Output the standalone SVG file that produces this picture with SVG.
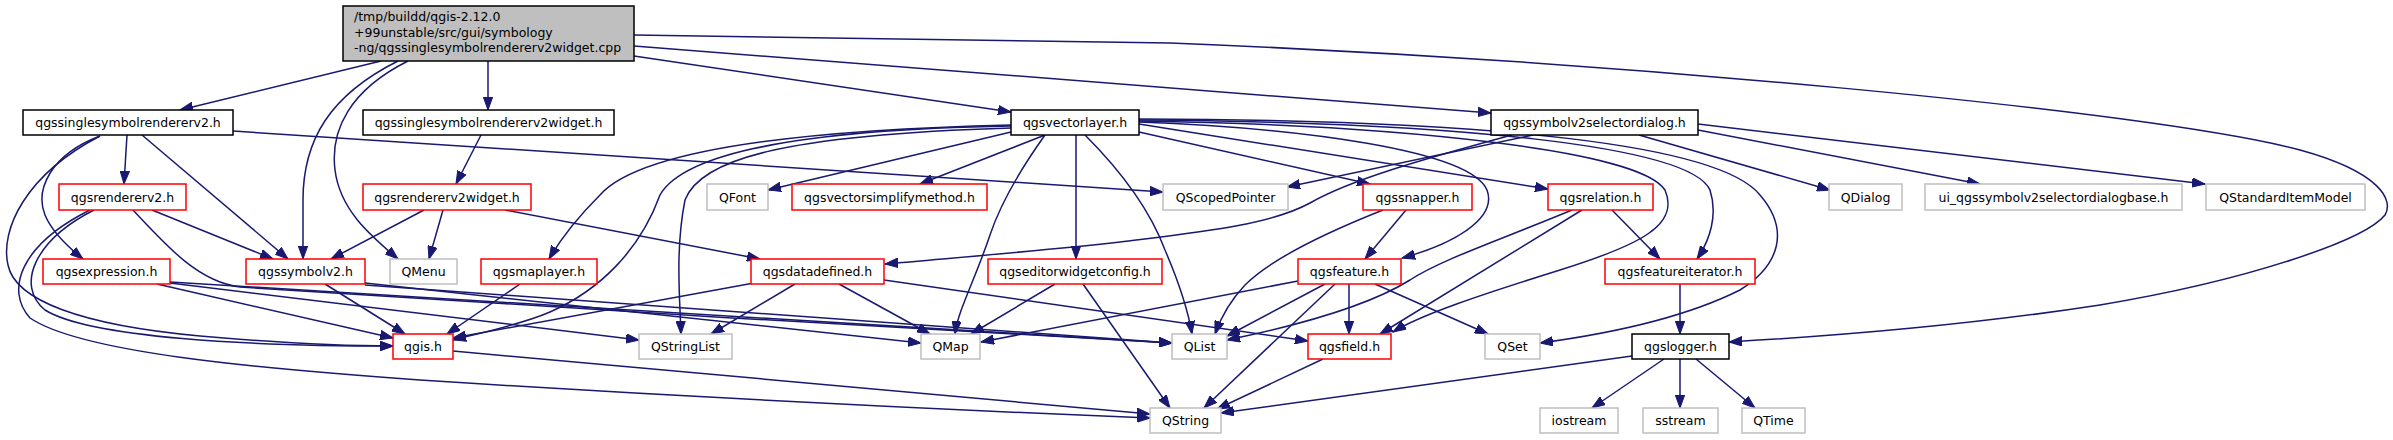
<svg xmlns="http://www.w3.org/2000/svg" width="2393" height="440" viewBox="0 0 2393 440">
<style>
.n rect{fill:#fff;stroke-width:1.5}
.b rect{stroke:#000}
.r rect{stroke:#ff0000}
.g rect{stroke:#bfbfbf}
text{font-family:"DejaVu Sans","Liberation Sans",sans-serif;font-size:12.5px;fill:#000}
.n text{text-anchor:middle}
#edges path{fill:none;stroke:#191970;stroke-width:1.5;marker-end:url(#arr)}
</style>
<defs>
<marker id="arr" markerWidth="14" markerHeight="10" refX="13" refY="5" orient="auto" markerUnits="userSpaceOnUse">
<path d="M0,0.3 L13,5 L0,9.7 z" fill="#191970" stroke="#191970" stroke-width="1"/>
</marker>
</defs>
<rect width="2393" height="440" fill="#fff"/>
<g id="edges">
<path d="M381,61 L180,110"/>
<path d="M488,61 L488,110"/>
<path d="M398,61 C330,95 303,140 303,200 L303,259"/>
<path d="M408,61 C350,90 330,130 335,170 C340,210 370,235 398,259"/>
<path d="M634,56 L1011,112"/>
<path d="M634,46 L1491,113"/>
<path d="M634,35 L1170,43 C1600,60 2150,110 2300,150 C2380,172 2394,200 2385,215 C2365,240 2250,280 2100,305 C1950,328 1800,338 1729,342"/>
<path d="M127,135 L124,184"/>
<path d="M142,135 L288,259"/>
<path d="M100,136 C50,155 35,190 45,215 C52,232 68,247 83,259"/>
<path d="M100,136 C25,175 0,230 8,265 C15,300 80,325 200,336 C280,343 340,346 393,346"/>
<path d="M94,210 C35,240 15,285 45,310 C90,338 250,346 393,346"/>
<path d="M90,210 C20,245 5,290 30,318 C80,352 250,368 420,380 C700,398 1000,412 1150,418"/>
<path d="M152,210 L273,259"/>
<path d="M133,210 C170,250 200,282 240,287 C500,305 900,328 1172,343"/>
<path d="M157,284 L393,338"/>
<path d="M170,283 L639,340"/>
<path d="M170,282 L1172,343"/>
<path d="M325,284 L405,334"/>
<path d="M365,283 L921,343"/>
<path d="M365,285 L1172,343"/>
<path d="M424,210 L331,259"/>
<path d="M443,210 L429,259"/>
<path d="M505,210 L760,259"/>
<path d="M481,135 L456,184"/>
<path d="M1011,132 L768,190"/>
<path d="M1045,135 L920,184"/>
<path d="M1011,125 C800,130 640,150 600,195 C580,215 560,240 549,259"/>
<path d="M1011,126 C770,130 680,160 660,195 C640,250 600,290 550,312 C520,325 480,333 453,340"/>
<path d="M1011,128 C780,135 700,160 685,200 C675,250 680,300 681,334"/>
<path d="M1045,135 C1020,170 1000,205 990,235 C975,280 958,310 955,334"/>
<path d="M1076,135 L1076,259"/>
<path d="M1085,135 C1120,170 1150,210 1165,250 C1180,285 1188,310 1192,334"/>
<path d="M1139,132 L1370,184"/>
<path d="M1139,124 L1548,189"/>
<path d="M1139,122 C1300,128 1470,150 1487,190 C1498,220 1450,245 1402,258"/>
<path d="M1139,121 C1400,125 1640,150 1665,190 C1680,225 1640,245 1560,270 C1480,295 1420,315 1393,332"/>
<path d="M1139,120 C1450,122 1690,145 1710,190 C1718,215 1710,240 1697,259"/>
<path d="M1139,119 C1500,120 1720,145 1760,195 C1790,230 1780,265 1740,290 C1680,320 1600,335 1540,343"/>
<path d="M1533,135 L1287,187"/>
<path d="M1512,135 C1420,160 1350,180 1310,203 C1270,225 1200,232 1120,242 C1030,252 950,258 885,264"/>
<path d="M1639,135 L1830,190"/>
<path d="M1698,130 L1980,184"/>
<path d="M1698,124 L2205,184"/>
<path d="M233,131 L1163,192"/>
<path d="M1406,210 L1365,259"/>
<path d="M1383,210 C1320,235 1270,260 1245,285 C1228,303 1220,320 1215,334"/>
<path d="M1612,210 L1660,259"/>
<path d="M1582,210 L1380,334"/>
<path d="M1572,210 C1500,240 1440,260 1410,280 C1370,305 1300,325 1227,340"/>
<path d="M1325,284 L1227,336"/>
<path d="M1349,284 L1349,334"/>
<path d="M1375,284 L1488,334"/>
<path d="M1335,284 L1204,408"/>
<path d="M1298,281 L981,342"/>
<path d="M1323,359 L1217,409"/>
<path d="M1680,284 L1680,334"/>
<path d="M1632,356 L1221,413"/>
<path d="M1664,359 L1592,408"/>
<path d="M1680,359 L1680,408"/>
<path d="M1696,359 L1755,408"/>
<path d="M795,284 L711,334"/>
<path d="M839,284 L930,334"/>
<path d="M884,280 L1308,341"/>
<path d="M754,283 L453,338"/>
<path d="M1055,284 L971,334"/>
<path d="M1083,284 L1170,408"/>
<path d="M520,284 L447,334"/>
<path d="M453,351 L1150,414"/>
</g>
<g id="main">
<rect x="343" y="6" width="291" height="55" fill="#bfbfbf" stroke="#000" stroke-width="1.5"/>
<text x="354" y="21">/tmp/buildd/qgis-2.12.0</text>
<text x="354" y="36.5">+99unstable/src/gui/symbology</text>
<text x="354" y="52">-ng/qgssinglesymbolrendererv2widget.cpp</text>
</g>
<g id="n1" class="n b"><rect x="23" y="110" width="210" height="25"/><text x="128" y="127">qgssinglesymbolrendererv2.h</text></g>
<g id="n2" class="n b"><rect x="363" y="110" width="251" height="25"/><text x="488.5" y="127">qgssinglesymbolrendererv2widget.h</text></g>
<g id="n3" class="n b"><rect x="1011" y="110" width="128" height="25"/><text x="1075" y="127">qgsvectorlayer.h</text></g>
<g id="n4" class="n b"><rect x="1491" y="110" width="207" height="25"/><text x="1594.5" y="127">qgssymbolv2selectordialog.h</text></g>
<g id="n5" class="n r"><rect x="59" y="184" width="127" height="26"/><text x="122.5" y="201.5">qgsrendererv2.h</text></g>
<g id="n6" class="n r"><rect x="363" y="184" width="168" height="26"/><text x="447" y="201.5">qgsrendererv2widget.h</text></g>
<g id="n7" class="n g"><rect x="707" y="184" width="61" height="26"/><text x="737.5" y="201.5">QFont</text></g>
<g id="n8" class="n r"><rect x="792" y="184" width="195" height="26"/><text x="889.5" y="201.5">qgsvectorsimplifymethod.h</text></g>
<g id="n9" class="n g"><rect x="1163" y="184" width="125" height="26"/><text x="1225.5" y="201.5">QScopedPointer</text></g>
<g id="n10" class="n r"><rect x="1363" y="184" width="109" height="26"/><text x="1417.5" y="201.5">qgssnapper.h</text></g>
<g id="n11" class="n r"><rect x="1548" y="184" width="105" height="26"/><text x="1600.5" y="201.5">qgsrelation.h</text></g>
<g id="n12" class="n g"><rect x="1829" y="184" width="73" height="26"/><text x="1865.5" y="201.5">QDialog</text></g>
<g id="n13" class="n g"><rect x="1925" y="184" width="257" height="26"/><text x="2053.5" y="201.5">ui_qgssymbolv2selectordialogbase.h</text></g>
<g id="n14" class="n g"><rect x="2206" y="184" width="159" height="26"/><text x="2285.5" y="201.5">QStandardItemModel</text></g>
<g id="n15" class="n r"><rect x="43" y="259" width="127" height="25"/><text x="106.5" y="276">qgsexpression.h</text></g>
<g id="n16" class="n r"><rect x="246" y="259" width="119" height="25"/><text x="305.5" y="276">qgssymbolv2.h</text></g>
<g id="n17" class="n g"><rect x="390" y="259" width="67" height="25"/><text x="423.5" y="276">QMenu</text></g>
<g id="n18" class="n r"><rect x="481" y="259" width="116" height="25"/><text x="539" y="276">qgsmaplayer.h</text></g>
<g id="n19" class="n r"><rect x="751" y="259" width="133" height="25"/><text x="817.5" y="276">qgsdatadefined.h</text></g>
<g id="n20" class="n r"><rect x="988" y="259" width="174" height="25"/><text x="1075" y="276">qgseditorwidgetconfig.h</text></g>
<g id="n21" class="n r"><rect x="1298" y="259" width="103" height="25"/><text x="1349.5" y="276">qgsfeature.h</text></g>
<g id="n22" class="n r"><rect x="1605" y="259" width="150" height="25"/><text x="1680" y="276">qgsfeatureiterator.h</text></g>
<g id="n23" class="n r"><rect x="393" y="334" width="60" height="25"/><text x="423" y="351">qgis.h</text></g>
<g id="n24" class="n g"><rect x="639" y="334" width="93" height="25"/><text x="685.5" y="351">QStringList</text></g>
<g id="n25" class="n g"><rect x="921" y="334" width="59" height="25"/><text x="950.5" y="351">QMap</text></g>
<g id="n26" class="n g"><rect x="1172" y="334" width="55" height="25"/><text x="1199.5" y="351">QList</text></g>
<g id="n27" class="n r"><rect x="1308" y="334" width="83" height="25"/><text x="1349.5" y="351">qgsfield.h</text></g>
<g id="n28" class="n g"><rect x="1485" y="334" width="55" height="25"/><text x="1512.5" y="351">QSet</text></g>
<g id="n29" class="n b"><rect x="1632" y="334" width="97" height="25"/><text x="1680.5" y="351">qgslogger.h</text></g>
<g id="n30" class="n g"><rect x="1150" y="408" width="71" height="25"/><text x="1185.5" y="425">QString</text></g>
<g id="n31" class="n g"><rect x="1540" y="408" width="78" height="25"/><text x="1579" y="425">iostream</text></g>
<g id="n32" class="n g"><rect x="1643" y="408" width="75" height="25"/><text x="1680.5" y="425">sstream</text></g>
<g id="n33" class="n g"><rect x="1742" y="408" width="63" height="25"/><text x="1773.5" y="425">QTime</text></g>
</svg>
